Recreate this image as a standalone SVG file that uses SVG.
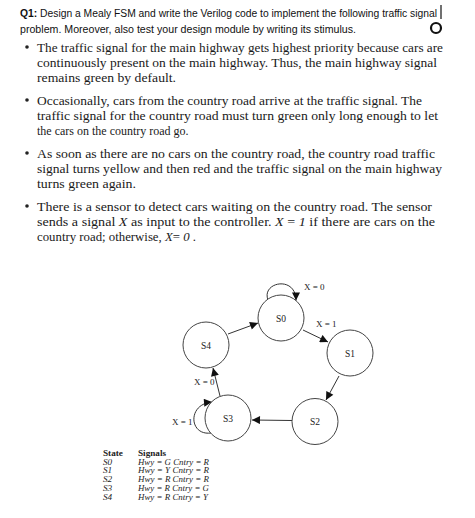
<svg xmlns="http://www.w3.org/2000/svg" width="475" height="518" viewBox="0 0 475 518">
<style>
.t{font-family:"Liberation Sans",Arial,sans-serif;font-size:10px;fill:#111}
.b{font-family:"Liberation Serif","Times New Roman",serif;font-size:12px;fill:#1a1a1a}
.i{font-style:italic}
.st{fill:#fff;stroke:#444;stroke-width:1}
.sl{font-family:"Liberation Serif","Times New Roman",serif;font-size:9.5px;fill:#222;text-anchor:middle}
.el{font-family:"Liberation Serif","Times New Roman",serif;font-size:9px;fill:#222}
.e{fill:none;stroke:#333;stroke-width:1}
.tb{font-family:"Liberation Serif","Times New Roman",serif;font-size:9.2px;fill:#222}
</style>
<defs>
<marker id="ah" viewBox="0 0 10 10" refX="10" refY="5" markerWidth="9" markerHeight="8" markerUnits="userSpaceOnUse" orient="auto">
<path d="M0,0 L10,5 L0,10 z" fill="#111"/>
</marker>
</defs>
<rect width="475" height="518" fill="#fff"/>

<g id="header">
<text class="t" x="20" y="17" textLength="417" lengthAdjust="spacingAndGlyphs"><tspan font-weight="bold">Q1:</tspan> Design a Mealy FSM and write the Verilog code to implement the following traffic signal</text>
<text class="t" x="20" y="33" textLength="336" lengthAdjust="spacingAndGlyphs">problem. Moreover, also test your design module by writing its stimulus.</text>
<line x1="441" y1="5" x2="441" y2="19" stroke="#111" stroke-width="1.2"/>
<circle cx="436" cy="28" r="5" fill="none" stroke="#111" stroke-width="2.2"/>
</g>

<g id="bullets">
<circle cx="27" cy="47" r="1.8" fill="#222"/>
<text class="b" x="37" y="51.5" textLength="406" lengthAdjust="spacingAndGlyphs">The traffic signal for the main highway gets highest priority because cars are</text>
<text class="b" x="37" y="66.5" textLength="400" lengthAdjust="spacingAndGlyphs">continuously present on the main highway. Thus, the main highway signal</text>
<text class="b" x="37" y="81.5" textLength="139" lengthAdjust="spacingAndGlyphs">remains green by default.</text>

<circle cx="27" cy="100" r="1.8" fill="#222"/>
<text class="b" x="37" y="104.5" textLength="385" lengthAdjust="spacingAndGlyphs">Occasionally, cars from the country road arrive at the traffic signal. The</text>
<text class="b" x="37" y="119.5" textLength="401" lengthAdjust="spacingAndGlyphs">traffic signal for the country road must turn green only long enough to let</text>
<text class="b" x="37" y="134.5">the cars on the country road go.</text>

<circle cx="27" cy="153" r="1.8" fill="#222"/>
<text class="b" x="37" y="157.5" textLength="398" lengthAdjust="spacingAndGlyphs">As soon as there are no cars on the country road, the country road traffic</text>
<text class="b" x="37" y="172.5" textLength="405" lengthAdjust="spacingAndGlyphs">signal turns yellow and then red and the traffic signal on the main highway</text>
<text class="b" x="37" y="187.5" textLength="99" lengthAdjust="spacingAndGlyphs">turns green again.</text>

<circle cx="27" cy="206" r="1.8" fill="#222"/>
<text class="b" x="37" y="210.5" textLength="395" lengthAdjust="spacingAndGlyphs">There is a sensor to detect cars waiting on the country road. The sensor</text>
<text class="b" x="37" y="225.5" textLength="398" lengthAdjust="spacingAndGlyphs">sends a signal <tspan class="i">X</tspan> as input to the controller. <tspan class="i">X</tspan> = <tspan class="i">1</tspan> if there are cars on the</text>
<text class="b" x="37" y="240.5" textLength="159" lengthAdjust="spacingAndGlyphs">country road; otherwise, <tspan class="i">X</tspan>= <tspan class="i">0</tspan> .</text>
</g>

<g id="connectors">
<path class="e" d="M228,334 L258,323" marker-end="url(#ah)"/>
<path class="e" d="M268,300 C261,282 296,275 296,300.5" marker-end="url(#ah)"/>
<path class="e" d="M303,330 L328,342" marker-end="url(#ah)"/>
<path class="e" d="M339,376 L326,400" marker-end="url(#ah)"/>
<path class="e" d="M292,420.5 L252,420" marker-end="url(#ah)"/>
<path class="e" d="M220,396 L213,368" marker-end="url(#ah)"/>
<path class="e" d="M211,433 C189,436 187,404 212,402" marker-end="url(#ah)"/>
<text class="el" x="304" y="290">X = 0</text>
<text class="el" x="316" y="327">X = 1</text>
<text class="el" x="194" y="385">X = 0</text>
<text class="el" x="172" y="424.5">X = 1</text>
</g>

<g id="S0"><circle class="st" cx="281" cy="318" r="23"/><text class="sl" x="281" y="321.5">S0</text></g>
<g id="S1"><circle class="st" cx="350" cy="353" r="23"/><text class="sl" x="350" y="356.5">S1</text></g>
<g id="S2"><circle class="st" cx="315" cy="421.5" r="23"/><text class="sl" x="315" y="425">S2</text></g>
<g id="S3"><circle class="st" cx="228" cy="418" r="23"/><text class="sl" x="228" y="421.5">S3</text></g>
<g id="S4"><circle class="st" cx="206" cy="345" r="23"/><text class="sl" x="206" y="348.5">S4</text></g>

<g id="table">
<text class="tb" x="103" y="456" font-weight="bold">State</text>
<text class="tb" x="138" y="456" font-weight="bold">Signals</text>
<text class="tb i" x="103" y="464.5">S0</text>
<text class="tb i" x="138" y="464.5" textLength="71" lengthAdjust="spacingAndGlyphs">Hwy = G Cntry = R</text>
<text class="tb i" x="103" y="473.3">S1</text>
<text class="tb i" x="138" y="473.3" textLength="71" lengthAdjust="spacingAndGlyphs">Hwy = Y Cntry = R</text>
<text class="tb i" x="103" y="482.1">S2</text>
<text class="tb i" x="138" y="482.1" textLength="71" lengthAdjust="spacingAndGlyphs">Hwy = R Cntry = R</text>
<text class="tb i" x="103" y="490.9">S3</text>
<text class="tb i" x="138" y="490.9" textLength="71" lengthAdjust="spacingAndGlyphs">Hwy = R Cntry = G</text>
<text class="tb i" x="103" y="499.7">S4</text>
<text class="tb i" x="138" y="499.7" textLength="70" lengthAdjust="spacingAndGlyphs">Hwy = R Cntry = Y</text>
</g>
</svg>
